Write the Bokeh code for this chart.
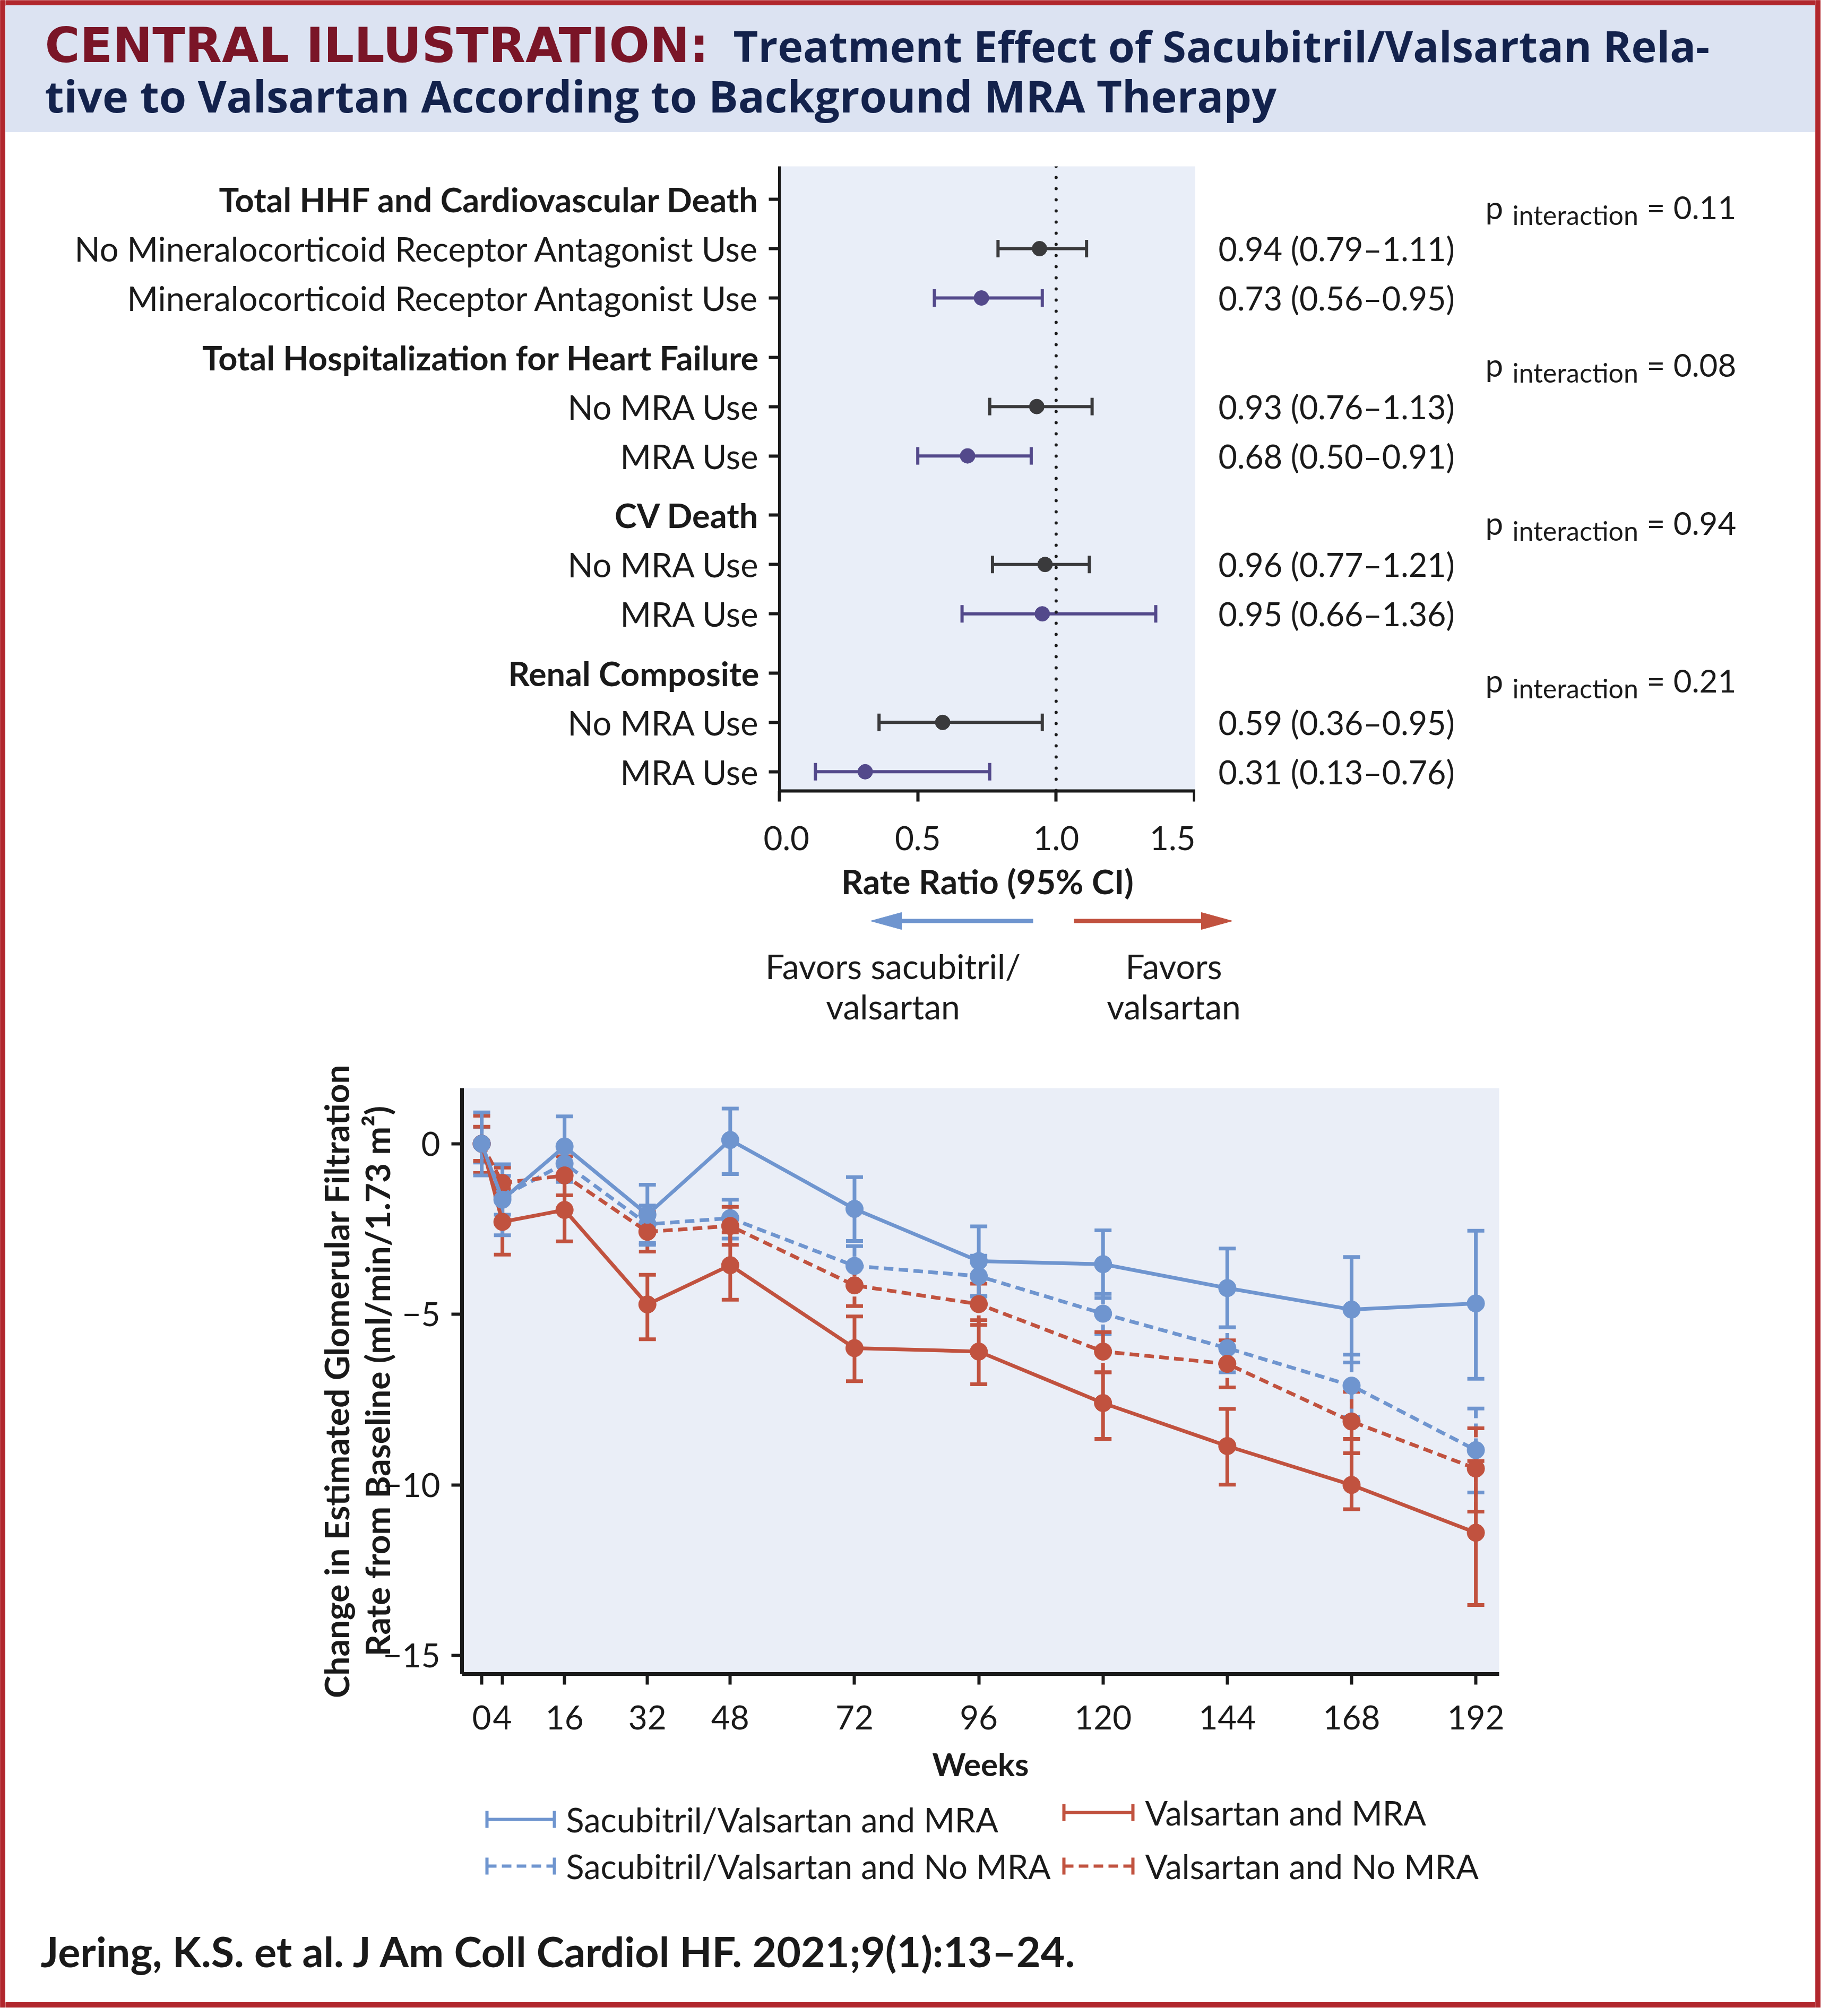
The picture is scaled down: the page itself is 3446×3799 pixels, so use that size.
from bokeh.plotting import figure
from bokeh.layouts import row, column
from bokeh.models import (Range1d, FixedTicker, Whisker, TeeHead,
                          ColumnDataSource, Span, PrintfTickFormatter)
from bokeh.core.properties import value
from bokeh.embed import file_html
from bokeh.resources import INLINE

# ---------------- data ----------------
title_lead = "CENTRAL ILLUSTRATION:"
title_line1 = "Treatment Effect of Sacubitril/Valsartan Rela-"
title_line2 = "tive to Valsartan According to Background MRA Therapy"

outcomes = ["Total HHF and Cardiovascular Death",
            "Total Hospitalization for Heart Failure",
            "CV Death",
            "Renal Composite"]
subgroups = ["No Mineralocorticoid Receptor Antagonist Use",
             "Mineralocorticoid Receptor Antagonist Use",
             "No MRA Use", "MRA Use",
             "No MRA Use", "MRA Use",
             "No MRA Use", "MRA Use"]
mra_use = [False, True, False, True, False, True, False, True]
rate_ratio = [0.94, 0.73, 0.93, 0.68, 0.96, 0.95, 0.59, 0.31]
ci_lower = [0.79, 0.56, 0.76, 0.50, 0.77, 0.66, 0.36, 0.13]
ci_upper = [1.11, 0.95, 1.13, 0.91, 1.12, 1.36, 0.95, 0.76]
ci_text = ["0.94 (0.79–1.11)", "0.73 (0.56–0.95)",
           "0.93 (0.76–1.13)", "0.68 (0.50–0.91)",
           "0.96 (0.77–1.21)", "0.95 (0.66–1.36)",
           "0.59 (0.36–0.95)", "0.31 (0.13–0.76)"]
p_interaction = ["0.11", "0.08", "0.94", "0.21"]
forest_ticks = [0.0, 0.5, 1.0, 1.5]
forest_xlabel = "Rate Ratio (95% CI)"
favors_left = ["Favors sacubitril/", "valsartan"]
favors_right = ["Favors", "valsartan"]

weeks = [0, 4, 16, 32, 48, 72, 96, 120, 144, 168, 192]
sv_mra = [0.0, -1.64, -0.08, -2.08, 0.11, -1.91, -3.44, -3.53, -4.23, -4.86, -4.68]
sv_mra_lo = [-0.93, -2.68, -0.96, -2.96, -0.89, -2.85, -4.46, -4.52, -5.38, -6.41, -6.89]
sv_mra_hi = [0.92, -0.60, 0.80, -1.20, 1.03, -0.98, -2.42, -2.54, -3.07, -3.32, -2.55]
sv_nomra = [0.0, -1.55, -0.58, -2.36, -2.18, -3.58, -3.88, -4.98, -5.99, -7.09, -8.98]
sv_nomra_lo = [-0.55, -2.08, -1.12, -2.91, -2.78, -4.18, -4.48, -5.58, -6.70, -8.00, -10.22]
sv_nomra_hi = [0.49, -0.94, -0.04, -1.81, -1.64, -3.00, -3.28, -4.40, -5.38, -6.18, -7.76]
val_mra = [0.0, -2.29, -1.94, -4.71, -3.56, -5.99, -6.09, -7.60, -8.86, -10.00, -11.40]
val_mra_lo = [-0.86, -3.25, -2.86, -5.73, -4.57, -6.96, -7.05, -8.65, -9.99, -10.71, -13.52]
val_mra_hi = [0.82, -1.33, -1.02, -3.84, -2.60, -5.06, -5.17, -6.70, -7.77, -8.65, -9.30]
val_nomra = [0.0, -1.15, -0.93, -2.58, -2.41, -4.15, -4.70, -6.09, -6.45, -8.14, -9.52]
val_nomra_lo = [-0.50, -1.60, -1.51, -3.16, -2.96, -4.76, -5.31, -6.70, -7.14, -9.07, -10.78]
val_nomra_hi = [0.50, -0.70, -0.37, -2.00, -1.85, -3.55, -4.10, -5.52, -5.76, -7.27, -8.34]
gfr_yticks = [0, -5, -10, -15]
gfr_ytick_labels = ["0", "−5", "−10", "−15"]
gfr_xlabel = "Weeks"
gfr_ylabel = "Change in Estimated Glomerular Filtration\nRate from Baseline (ml/min/1.73 m²)"

legend_labels = ["Sacubitril/Valsartan and MRA", "Sacubitril/Valsartan and No MRA",
                 "Valsartan and MRA", "Valsartan and No MRA"]
citation = "Jering, K.S. et al. J Am Coll Cardiol HF. 2021;9(1):13–24."

# ---------------- styles ----------------
RED = "#b1272d"
BAND = "#dce3f2"
PANEL = "#e9eef8"
PANEL2 = "#eaeef7"
INK = "#1a1a1a"
NAVY = "#13224c"
MAROON = "#7a1527"
GRAY = "#3a3a3c"
PURPLE = "#53498b"
BLUE = "#6f95cf"
ORANGE = "#c1523f"
FONT = "Lato"
DASH = "18 10"


def no_grid(p):
    for g in p.grid:
        g.visible = False


def canvas(width, height, x0, x1, y_top, y_bottom, bg="white"):
    p = figure(width=width, height=height, x_range=Range1d(x0, x1),
               y_range=Range1d(y_bottom, y_top), output_backend="svg",
               toolbar_location=None, x_axis_location=None, y_axis_location=None,
               min_border=0, outline_line_color=None,
               background_fill_color=bg, border_fill_color=bg)
    p.min_border_left = p.min_border_right = 0
    p.min_border_top = p.min_border_bottom = 0
    no_grid(p)
    return p


def style_axis(ax, tick_size, width):
    ax.axis_line_color = INK
    ax.axis_line_width = width
    ax.major_tick_line_color = INK
    ax.major_tick_line_width = 6
    ax.major_tick_out = 20
    ax.major_tick_in = 0
    ax.minor_tick_line_color = None
    ax.major_label_text_font = FONT
    ax.major_label_text_font_size = tick_size
    ax.major_label_text_color = INK
    ax.axis_label_text_font = FONT
    ax.axis_label_text_font_style = "bold"
    ax.axis_label_text_color = INK


def strip():
    s = canvas(10, 3783, 0, 1, 0, 1, bg=RED)
    s.quad(left=[0], right=[1], top=[0], bottom=[1], color=RED)
    return s


# ---------------- header ----------------
hp = canvas(3410, 249, 18, 3428, 8, 257)
hp.quad(left=[18], right=[3428], top=[8], bottom=[18], color=RED)
hp.quad(left=[18], right=[3428], top=[18], bottom=[257], color=BAND)
hp.text(x=[92], y=[93], text=[title_lead], text_font=value("DejaVu Sans"),
        text_font_style="bold", text_font_size="90px", text_color=MAROON,
        text_baseline="middle", text_align="left")
hp.text(x=[1389], y=[93], text=[title_line1], text_font=value("Open Sans"),
        text_font_style="bold", text_font_size="81px", text_color=NAVY,
        text_baseline="middle", text_align="left")
hp.text(x=[92], y=[187], text=[title_line2], text_font=value("Open Sans"),
        text_font_style="bold", text_font_size="83px", text_color=NAVY,
        text_baseline="middle", text_align="left")

# ---------------- forest plot ----------------
header_pos = [round(3 * g + 0.2 * g, 2) for g in range(4)]
est_pos = []
for g in range(4):
    est_pos += [round(header_pos[g] + 1, 2), round(header_pos[g] + 2, 2)]
all_pos = sorted(header_pos + est_pos)

F_TOP, F_FRAME, F_BOT = 64, 1177, 228
F_H = F_TOP + F_FRAME + F_BOT
Y_TOP, Y_BOTTOM = -0.667, 11.989
forest_y = Range1d(Y_BOTTOM, Y_TOP)
# label panels use the same row mapping but extend 30 px lower so nothing is clipped
EXTRA = 30
per_px = (Y_BOTTOM - Y_TOP) / F_FRAME
label_y = Range1d(Y_BOTTOM + EXTRA * per_px, Y_TOP)

fp = figure(width=814, height=F_H, x_range=Range1d(0, 1.5 * 784 / 782),
            y_range=forest_y, output_backend="svg",
            toolbar_location=None, min_border_left=30, min_border_right=0,
            min_border_top=F_TOP, min_border_bottom=F_BOT,
            background_fill_color=PANEL, border_fill_color="white",
            outline_line_color=None)
no_grid(fp)
style_axis(fp.xaxis[0], "62px", 6)
style_axis(fp.yaxis[0], "0px", 5)
fp.xaxis[0].ticker = FixedTicker(ticks=forest_ticks)
fp.xaxis[0].formatter = PrintfTickFormatter(format="%.1f")
fp.xaxis[0].major_label_standoff = 46
fp.xaxis[0].axis_label = forest_xlabel
fp.xaxis[0].axis_label_text_font_size = "64px"
fp.xaxis[0].axis_label_standoff = 17
fp.yaxis[0].ticker = FixedTicker(ticks=all_pos)
fp.yaxis[0].major_label_overrides = {p: "" for p in all_pos}
fp.yaxis[0].major_label_standoff = 0

for flag, col in [(False, GRAY), (True, PURPLE)]:
    idx = [i for i, m in enumerate(mra_use) if m == flag]
    src = ColumnDataSource(dict(pos=[est_pos[i] for i in idx],
                                rr=[rate_ratio[i] for i in idx],
                                lo=[ci_lower[i] for i in idx],
                                hi=[ci_upper[i] for i in idx]))
    fp.add_layout(Whisker(source=src, base="pos", lower="lo", upper="hi",
                          dimension="width", line_color=col, line_width=6,
                          upper_head=TeeHead(size=33, line_color=col, line_width=6),
                          lower_head=TeeHead(size=33, line_color=col, line_width=6)))
    fp.scatter("rr", "pos", source=src, size=28, color=col)

fp.add_layout(Span(location=1.0, dimension="height", line_color=INK, line_width=6,
                   line_dash="0 21", line_cap="round"))


def label_panel(width, x0, x1):
    p = figure(width=width, height=F_H, x_range=Range1d(x0, x1), y_range=label_y,
               output_backend="svg", toolbar_location=None, x_axis_location=None,
               y_axis_location=None, min_border_left=0, min_border_right=0,
               min_border_top=F_TOP, min_border_bottom=F_BOT - EXTRA,
               outline_line_color=None, background_fill_color="white",
               border_fill_color="white")
    no_grid(p)
    return p


# left label panel (row labels)
lf = label_panel(1428, 18, 1446)
lf.text(x=[1438] * 4, y=header_pos, text=outcomes, text_font=value(FONT),
        text_font_style="bold", text_font_size="63px", text_color=INK,
        text_baseline="middle", text_align="right")
lf.text(x=[1438] * len(subgroups), y=est_pos, text=subgroups, text_font=value(FONT),
        text_font_size="63px", text_color=INK, text_baseline="middle",
        text_align="right")

# right-hand text panel
rp = label_panel(1168, 2260, 3428)
rp.text(x=[2303] * len(ci_text), y=est_pos, text=ci_text, text_font=value(FONT),
        text_font_size="61px", text_color=INK, text_baseline="middle", text_align="left")
unit = 93.0
rp.text(x=[2806] * 4, y=[h + 14 / unit for h in header_pos], text=["p"] * 4,
        text_font=value(FONT), text_font_size="60px", text_color=INK,
        text_baseline="middle", text_align="left")
rp.text(x=[2857] * 4, y=[h + 29 / unit for h in header_pos], text=["interaction"] * 4,
        text_font=value(FONT), text_font_size="50px", text_color=INK,
        text_baseline="middle", text_align="left")
rp.text(x=[3110] * 4, y=[h + 14 / unit for h in header_pos],
        text=["= " + v for v in p_interaction],
        text_font=value(FONT), text_font_size="60px", text_color=INK,
        text_baseline="middle", text_align="left")

# ---------------- arrows ----------------
A_TOP = 257 + F_H
ap = canvas(3410, 1970 - A_TOP, 18, 3428, A_TOP, 1970)
arrow_tail = [1954, 2031]
arrow_tip = [1648, 2329]
arrow_dir = [-1, 1]
arrow_col = [BLUE, ORANGE]
arrow_y = 1743
head_len, head_half = 58, 16
for tail, tip, d, col in zip(arrow_tail, arrow_tip, arrow_dir, arrow_col):
    base = tip - d * head_len
    ap.segment(x0=[tail], y0=[arrow_y], x1=[base], y1=[arrow_y], line_color=col, line_width=8)
    ap.patch(x=[tip, base, base], y=[arrow_y, arrow_y - head_half, arrow_y + head_half],
             color=col)
for txts, cx in [(favors_left, 1690), (favors_right, 2219)]:
    ap.text(x=[cx, cx], y=[1828, 1904], text=txts, text_font=value(FONT),
            text_font_size="64px", text_color=INK, text_baseline="middle",
            text_align="center")

# ---------------- eGFR chart ----------------
C_TOP, C_FRAME, C_BOT = 88, 1104, 225
cp = figure(width=3410, height=C_TOP + C_FRAME + C_BOT, x_range=Range1d(-3.8, 196.5),
            y_range=Range1d(-15.54, 1.63), output_backend="svg", toolbar_location=None,
            min_border_left=860, min_border_right=596, min_border_top=C_TOP,
            min_border_bottom=C_BOT, background_fill_color=PANEL2,
            border_fill_color="white", outline_line_color=None)
no_grid(cp)
style_axis(cp.xaxis[0], "62px", 7)
style_axis(cp.yaxis[0], "62px", 7)
cp.xaxis[0].ticker = FixedTicker(ticks=weeks)
cp.xaxis[0].major_label_standoff = 39
cp.xaxis[0].axis_label = gfr_xlabel
cp.xaxis[0].axis_label_text_font_size = "60px"
cp.xaxis[0].axis_label_standoff = 26
cp.yaxis[0].ticker = FixedTicker(ticks=gfr_yticks)
cp.yaxis[0].major_label_overrides = dict(zip(gfr_yticks, gfr_ytick_labels))
cp.yaxis[0].major_label_standoff = 21
cp.yaxis[0].axis_label = gfr_ylabel
cp.yaxis[0].axis_label_text_font_size = "64px"
cp.yaxis[0].axis_label_text_line_height = 1.0
cp.yaxis[0].axis_label_standoff = -30

series = [
    (sv_nomra, sv_nomra_lo, sv_nomra_hi, BLUE, DASH),
    (val_nomra, val_nomra_lo, val_nomra_hi, ORANGE, DASH),
    (val_mra, val_mra_lo, val_mra_hi, ORANGE, "solid"),
    (sv_mra, sv_mra_lo, sv_mra_hi, BLUE, "solid"),
]
for ys, lo, hi, col, dash in series:
    src = ColumnDataSource(dict(w=weeks, y=ys, lo=lo, hi=hi))
    cp.add_layout(Whisker(source=src, base="w", lower="lo", upper="hi",
                          dimension="height", line_color=col, line_width=7,
                          line_dash=dash,
                          upper_head=TeeHead(size=32, line_color=col, line_width=7),
                          lower_head=TeeHead(size=32, line_color=col, line_width=7)))
    cp.line("w", "y", source=src, line_color=col, line_width=7, line_dash=dash)
    cp.scatter("w", "y", source=src, size=33, color=col)

# ---------------- legend ----------------
L_TOP = 1970 + C_TOP + C_FRAME + C_BOT
L_BOTTOM = 3605
lp = canvas(3410, L_BOTTOM - L_TOP, 18, 3428, L_TOP, L_BOTTOM)
leg_colors = [BLUE, BLUE, ORANGE, ORANGE]
leg_dashes = ["solid", DASH, "solid", DASH]
leg_x0 = [925, 925, 2012, 2012]
leg_x1 = [1052, 1052, 2142, 2142]
leg_tx = [1074, 1074, 2165, 2165]
leg_y = [3436, 3524, 3423, 3524]
for lab, col, dash, x0, x1, tx, y in zip(legend_labels, leg_colors, leg_dashes,
                                         leg_x0, leg_x1, leg_tx, leg_y):
    lp.segment(x0=[x0], y0=[y], x1=[x1], y1=[y], line_color=col, line_width=6,
               line_dash=dash)
    lp.segment(x0=[x0, x1], y0=[y - 16, y - 16], x1=[x0, x1], y1=[y + 16, y + 16],
               line_color=col, line_width=6)
    lp.text(x=[tx], y=[y], text=[lab], text_font=value(FONT), text_font_size="63px",
            text_color=INK, text_baseline="middle", text_align="left")

# ---------------- footer ----------------
ftp = canvas(3410, 3791 - L_BOTTOM, 18, 3428, L_BOTTOM, 3791)
ftp.text(x=[84], y=[3684], text=[citation], text_font=value(FONT),
         text_font_style="bold", text_font_size="79px", text_color=INK,
         text_baseline="middle", text_align="left")
ftp.quad(left=[18], right=[3428], top=[3781], bottom=[3791], color=RED)

# each panel is wrapped on its own so the layout does not align their frames
forest_row = row(column(lf), column(fp), column(rp))
inner = column(row(hp), forest_row, row(ap), row(cp), row(lp), row(ftp))
page = row(strip(), inner, strip())

open("out.html", "w").write(file_html(page, INLINE, title="Central Illustration"))
